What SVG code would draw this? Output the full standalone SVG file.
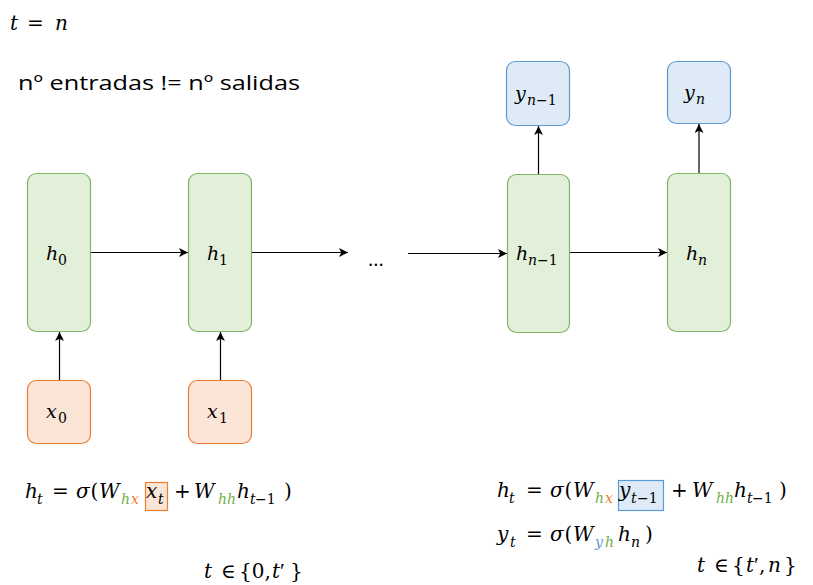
<svg xmlns="http://www.w3.org/2000/svg" width="813" height="585" viewBox="0 0 813 585">
<defs>
<marker id="arr" viewBox="0 0 10 10" refX="10" refY="5" markerWidth="9" markerHeight="9" markerUnits="userSpaceOnUse" orient="auto">
<path d="M0,0 L10,5 L0,10 L2.5,5 Z" fill="#000"/>
</marker>
</defs>
<style>
.g{fill:#e2efd9;stroke:#82b366;stroke-width:1.2}
.o{fill:#fbe5d6;stroke:#ed7d31;stroke-width:1.2}
.b{fill:#deebf7;stroke:#5b9bd5;stroke-width:1.2}
.m{font-family:"DejaVu Serif","Liberation Serif",serif;font-style:italic;font-size:20px;fill:#000}
.u{font-style:normal}
.s{font-size:14px}
.n{font-family:"DejaVu Serif","Liberation Serif",serif;font-style:italic;font-size:19px;fill:#000}
.ns{font-size:14px}
.p{font-family:"Liberation Serif",serif;font-style:normal;font-size:22px}
.cg{fill:#70ad47}
.co{fill:#ed7d31}
.cb{fill:#5b9bd5}
.t{font-family:"Open Sans","Noto Sans",sans-serif;font-size:20px;fill:#000}
.c{fill:none;stroke:#000;stroke-width:1.2}
</style>

<text class="m" x="10" y="30" font-size="21">t<tspan class="u" x="27">=</tspan><tspan x="55">n</tspan></text>
<text class="t" x="18" y="90" textLength="282" lengthAdjust="spacingAndGlyphs">nº entradas != nº salidas</text>

<g id="connectors">
<line class="c" x1="91" y1="252.5" x2="188" y2="252.5" marker-end="url(#arr)"/>
<line class="c" x1="252" y1="252.5" x2="348" y2="252.5" marker-end="url(#arr)"/>
<line class="c" x1="408" y1="253.5" x2="507" y2="253.5" marker-end="url(#arr)"/>
<line class="c" x1="570" y1="252.5" x2="667" y2="252.5" marker-end="url(#arr)"/>
<line class="c" x1="59.5" y1="380" x2="59.5" y2="332" marker-end="url(#arr)"/>
<line class="c" x1="220.5" y1="380" x2="220.5" y2="332" marker-end="url(#arr)"/>
<line class="c" x1="538.5" y1="174" x2="538.5" y2="126" marker-end="url(#arr)"/>
<line class="c" x1="699" y1="173" x2="699" y2="124" marker-end="url(#arr)"/>
</g>

<g id="h0"><rect class="g" x="27.5" y="173.5" width="63" height="158" rx="9"/>
<text class="n" x="46" y="260">h<tspan class="u ns" x="58" y="265">0</tspan></text></g>
<g id="h1"><rect class="g" x="188.5" y="173.5" width="63" height="158" rx="9"/>
<text class="n" x="207" y="260">h<tspan class="u ns" x="219" y="265">1</tspan></text></g>
<g id="dots"><text class="t" x="368" y="266" font-size="17">...</text></g>
<g id="hn1"><rect class="g" x="507.5" y="174.5" width="62" height="158" rx="9"/>
<text class="n" x="516" y="260">h<tspan class="ns" x="528" y="265">n</tspan><tspan class="u ns" x="537" y="265">−1</tspan></text></g>
<g id="hn"><rect class="g" x="667.5" y="173.5" width="63" height="158" rx="9"/>
<text class="n" x="686" y="260">h<tspan class="ns" x="698" y="265">n</tspan></text></g>
<g id="x0"><rect class="o" x="27.5" y="380.5" width="63" height="63" rx="9"/>
<text class="n" x="46" y="418">x<tspan class="u ns" x="58" y="423">0</tspan></text></g>
<g id="x1"><rect class="o" x="188.5" y="380.5" width="63" height="63" rx="9"/>
<text class="n" x="207" y="418">x<tspan class="u ns" x="219" y="423">1</tspan></text></g>
<g id="yn1"><rect class="b" x="506.5" y="61.5" width="63" height="64" rx="9"/>
<text class="n" x="515" y="100">y<tspan class="ns" x="527" y="105">n</tspan><tspan class="u ns" x="536" y="105">−1</tspan></text></g>
<g id="yn"><rect class="b" x="667.5" y="61.5" width="63" height="62" rx="9"/>
<text class="n" x="684" y="99">y<tspan class="ns" x="696" y="104">n</tspan></text></g>

<g id="eq-left">
<rect class="o" x="145.5" y="482.5" width="22" height="28"/>
<text class="m" x="25" y="498">h<tspan class="s" x="37" y="504">t</tspan><tspan class="u" x="52" y="498">=</tspan><tspan x="76">σ</tspan><tspan class="u" x="90.5">(</tspan><tspan x="99">W</tspan><tspan class="s cg" x="121" y="504">h</tspan><tspan class="s co" x="131">x</tspan><tspan x="146" y="498">x</tspan><tspan class="s" x="158" y="504">t</tspan><tspan class="u" x="174" y="498">+</tspan><tspan x="194">W</tspan><tspan class="s cg" x="218" y="504">hh</tspan><tspan x="237" y="498">h</tspan><tspan class="s" x="250" y="504">t</tspan><tspan class="u s" x="255">−1</tspan><tspan class="u" x="284" y="498">)</tspan></text>
<text class="m" x="204" y="578">t<tspan class="u" x="221">∈</tspan><tspan class="u" x="239">{0,</tspan><tspan x="272">t</tspan><tspan class="p" x="280">′</tspan><tspan class="u" x="290">}</tspan></text>
</g>

<g id="eq-right">
<rect class="b" x="618.5" y="480.5" width="45" height="30"/>
<text class="m" x="497" y="497">h<tspan class="s" x="509" y="503">t</tspan><tspan class="u" x="526" y="497">=</tspan><tspan x="550">σ</tspan><tspan class="u" x="564.5">(</tspan><tspan x="573">W</tspan><tspan class="s cg" x="595" y="503">h</tspan><tspan class="s co" x="605">x</tspan><tspan x="619" y="497">y</tspan><tspan class="s" x="631" y="503">t</tspan><tspan class="u s" x="637">−1</tspan><tspan class="u" x="671" y="497">+</tspan><tspan x="692">W</tspan><tspan class="s cg" x="716" y="503">hh</tspan><tspan x="734" y="497">h</tspan><tspan class="s" x="747" y="503">t</tspan><tspan class="u s" x="752">−1</tspan><tspan class="u" x="779" y="497">)</tspan></text>
<text class="m" x="497" y="541">y<tspan class="s" x="510" y="547">t</tspan><tspan class="u" x="526" y="541">=</tspan><tspan x="550">σ</tspan><tspan class="u" x="564.5">(</tspan><tspan x="573">W</tspan><tspan class="s cb" x="595" y="547">y</tspan><tspan class="s cg" x="605">h</tspan><tspan x="618" y="541">h</tspan><tspan class="s" x="631" y="547">n</tspan><tspan class="u" x="645" y="541">)</tspan></text>
<text class="m" x="697" y="572">t<tspan class="u" x="714">∈</tspan><tspan class="u" x="732">{</tspan><tspan x="746">t</tspan><tspan class="p" x="754">′</tspan><tspan class="u" x="759">,</tspan><tspan x="768">n</tspan><tspan class="u" x="784">}</tspan></text>
</g>
</svg>
